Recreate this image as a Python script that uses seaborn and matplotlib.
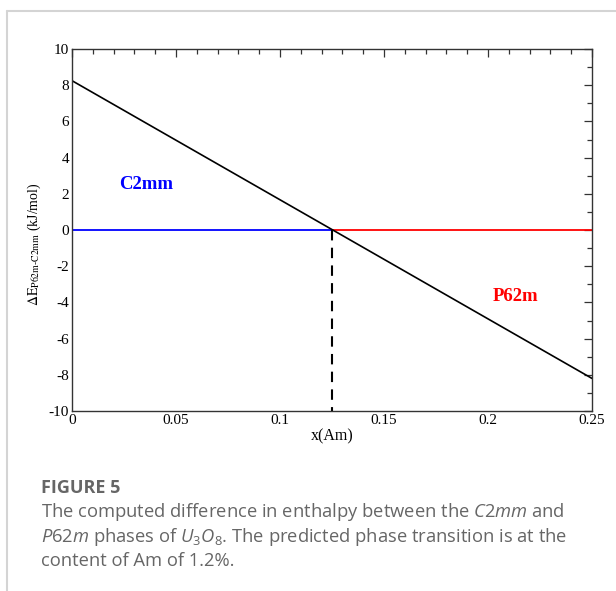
import numpy as np
import pandas as pd
import matplotlib
matplotlib.use("Agg")
import matplotlib.pyplot as plt
from matplotlib.lines import Line2D
from matplotlib.ticker import MultipleLocator, FixedLocator
import seaborn as sns

# ---- data ----
x_am = [0.0, 0.25]                 # Am content endpoints
dE = [8.25, -8.2]                  # enthalpy difference (kJ/mol)
x_transition = 0.125               # predicted transition point
c2mm_x = [0.0, 0.125]              # region where C2mm is stable
c2mm_y = [0.0, 0.0]
p62m_x = [0.125, 0.25]             # region where P62m is stable
p62m_y = [0.0, 0.0]
x_ticks = [0, 0.05, 0.1, 0.15, 0.2, 0.25]
x_ticklabels = ["0", "0.05", "0.1", "0.15", "0.2", "0.25"]
y_ticks = [10, 8, 6, 4, 2, 0, -2, -4, -6, -8, -10]

sns.set_theme(style="white")
plt.rcParams["font.family"] = ["Liberation Serif", "DejaVu Serif"]
plt.rcParams["mathtext.fontset"] = "custom"
plt.rcParams["mathtext.rm"] = "Open Sans"
plt.rcParams["mathtext.it"] = "Open Sans:italic"
plt.rcParams["mathtext.bf"] = "Open Sans:bold"

fig = plt.figure(figsize=(6.16, 5.91), dpi=100)
ax = fig.add_axes([72 / 616, 1 - 411 / 591, (592 - 72) / 616, (411 - 49) / 591])

df_main = pd.DataFrame({"x": x_am, "y": dE})
df_c = pd.DataFrame({"x": c2mm_x, "y": c2mm_y})
df_p = pd.DataFrame({"x": p62m_x, "y": p62m_y})

sns.lineplot(data=df_c, x="x", y="y", ax=ax, color="#0000ff", lw=1.3)
sns.lineplot(data=df_p, x="x", y="y", ax=ax, color="#ff0000", lw=1.3)
sns.lineplot(data=df_main, x="x", y="y", ax=ax, color="black", lw=1.2)
ax.plot([x_transition, x_transition], [0, -10], color="black", lw=1.5,
        dashes=(5, 3.5))

ax.set_xlim(0, 0.25)
ax.set_ylim(-10, 10)
ax.xaxis.set_major_locator(FixedLocator(x_ticks))
ax.set_xticklabels(x_ticklabels)
ax.xaxis.set_minor_locator(MultipleLocator(0.01))
ax.yaxis.set_major_locator(FixedLocator(y_ticks))
ax.set_yticklabels([str(v) for v in y_ticks])
ax.yaxis.set_minor_locator(MultipleLocator(1))

ax.tick_params(which="both", direction="in", top=True, right=True,
               color="#333333", width=0.9, labelsize=11, labelcolor="black")
ax.tick_params(which="major", length=6, pad=2)
ax.tick_params(which="minor", length=3.5)
for s in ax.spines.values():
    s.set_color("#333333")
    s.set_linewidth(1.0)

ax.set_xlabel("x(Am)", fontsize=11.5, labelpad=1, color="black")
ax.set_ylabel(r"$\Delta\mathrm{E}_{\mathrm{P62m}\text{-}\mathrm{C2mm}}$ (kJ/mol)",
              fontsize=10, color="black", math_fontfamily="stix")
ax.yaxis.set_label_coords(-0.056, 0.46)

ax.text(0.0225, 2.5, "C2mm", color="#0000ff", fontsize=13.5,
        fontweight="bold", va="center", ha="left")
ax.text(0.2025, -3.65, "P62m", color="#ff0000", fontsize=13.5,
        fontweight="bold", va="center", ha="left")

# ---- card frame and caption ----
frame_c = "#d4d4d4"
fig.add_artist(Line2D([7 / 616, 1], [1 - 11 / 591, 1 - 11 / 591],
                      transform=fig.transFigure, color=frame_c, lw=1.5))
fig.add_artist(Line2D([7 / 616, 7 / 616], [0, 1 - 11 / 591],
                      transform=fig.transFigure, color=frame_c, lw=1.5))

cap_c = "#666666"
cx = 41 / 616
fig.text(cx, 1 - 493 / 591, "FIGURE 5", family="Open Sans", fontweight="bold",
         fontsize=13, color=cap_c, va="baseline")
lines = [
    r"The computed difference in enthalpy between the $\mathit{C2mm}$ and",
    r"$\mathit{P62m}$ phases of $\mathit{U}_{\mathrm{3}}\mathit{O}_{\mathrm{8}}$. The predicted phase transition is at the",
    "content of Am of 1.2%.",
]
for i, t in enumerate(lines):
    fig.text(cx, 1 - (517 + 24.5 * i) / 591, t, family="Open Sans",
             fontsize=13.2, color=cap_c, va="baseline")

fig.savefig("out.png", dpi=100)
